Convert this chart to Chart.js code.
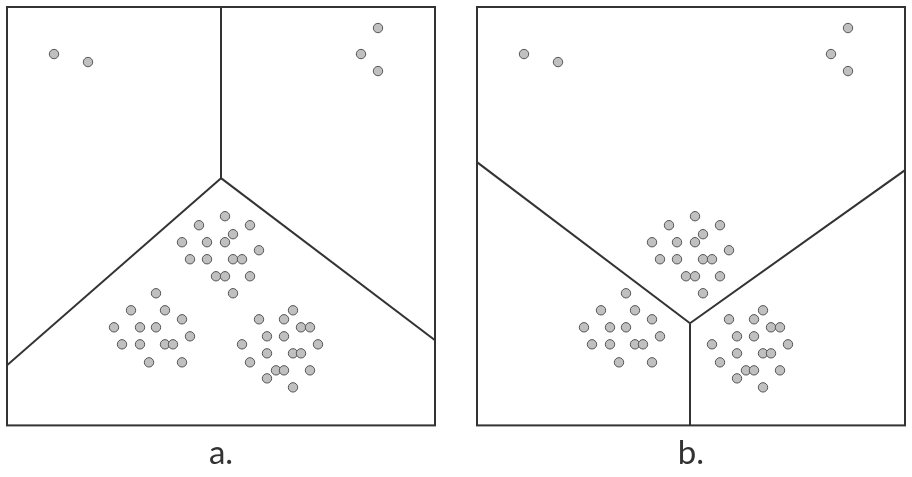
<!DOCTYPE html>
<html>
<head>
<meta charset="utf-8">
<script src="https://cdn.jsdelivr.net/npm/chart.js@4.4.1/dist/chart.umd.min.js"></script>
<style>
  html, body { margin: 0; padding: 0; background: #fff; }
  .panel { position: absolute; top: 0; width: 456px; height: 477px; }
</style>
</head>
<body>
<div class="panel" style="left:0"><canvas id="chartA"></canvas></div>
<div class="panel" style="left:456px"><canvas id="chartB"></canvas></div>
<script>
// box coordinates: x 0..428 left to right, y 0..418 top to bottom
var boxWidth = 428;
var boxHeight = 418;

var topLeftPoints = [[47, 47], [81, 55]];
var topRightPoints = [[371, 21], [354, 47], [371, 64]];
var middlePoints = [
  [218, 209], [192, 218], [243, 218], [226, 227], [175, 235], [200, 235],
  [218, 235], [252, 243], [183, 252], [200, 252], [226, 252], [235, 252],
  [209, 269], [218, 269], [243, 269], [226, 286]
];
var lowerLeftPoints = [
  [149, 286], [124, 303], [158, 303], [175, 312], [107, 320], [133, 320],
  [149, 320], [183, 329], [115, 337], [133, 337], [158, 337], [166, 337],
  [142, 355], [175, 355]
];
var lowerRightPoints = [
  [286, 303], [252, 312], [277, 312], [294, 320], [303, 320], [260, 329],
  [277, 329], [311, 337], [235, 337], [260, 346], [286, 346], [294, 346],
  [243, 355], [269, 363], [277, 363], [303, 363], [260, 371], [286, 380]
];

// boundary segments
var boundariesA = [
  [[214, 0], [214, 171]],
  [[214, 171], [0, 358]],
  [[214, 171], [428, 333]]
];
var boundariesB = [
  [[0, 155], [213, 316]],
  [[213, 316], [428, 163]],
  [[213, 316], [213, 418]]
];

var labels = ['a.', 'b.'];

function toXY(list) {
  return list.map(function (p) { return { x: p[0], y: p[1] }; });
}

var allPoints = [].concat(topLeftPoints, topRightPoints, middlePoints, lowerLeftPoints, lowerRightPoints);

var boxPlugin = {
  id: 'box',
  afterDatasetsDraw: function (chart) {
    var a = chart.chartArea;
    var ctx = chart.ctx;
    ctx.save();
    ctx.strokeStyle = '#333';
    ctx.lineWidth = 2;
    ctx.strokeRect(a.left, a.top, a.right - a.left, a.bottom - a.top);
    ctx.restore();
  }
};

function makeChart(id, boundaries, label, pad) {
  var datasets = boundaries.map(function (seg) {
    return {
      type: 'scatter',
      data: toXY(seg),
      showLine: true,
      borderColor: '#333',
      borderWidth: 2,
      pointRadius: 0,
      fill: false,
      order: 2
    };
  });
  datasets.push({
    type: 'scatter',
    data: toXY(allPoints),
    backgroundColor: '#c0c0c0',
    borderColor: '#555',
    borderWidth: 1,
    pointRadius: 4.7,
    order: 1
  });

  return new Chart(document.getElementById(id), {
    type: 'scatter',
    data: { datasets: datasets },
    plugins: [boxPlugin],
    options: {
      responsive: true,
      maintainAspectRatio: false,
      animation: false,
      events: [],
      layout: { padding: pad },
      plugins: { legend: { display: false }, tooltip: { enabled: false } },
      scales: {
        x: {
          min: 0, max: boxWidth,
          grid: { display: false },
          border: { display: false },
          ticks: { display: false },
          title: {
            display: true,
            text: label,
            color: '#333',
            font: { family: 'Lato', size: 33 },
            padding: { top: 0, bottom: 0 }
          }
        },
        y: {
          min: 0, max: boxHeight,
          reverse: true,
          display: false
        }
      }
    }
  });
}

makeChart('chartA', boundariesA, labels[0], { left: 7, right: 21, top: 7, bottom: 4 });
makeChart('chartB', boundariesB, labels[1], { left: 21, right: 7, top: 7, bottom: 4 });
</script>
</body>
</html>
